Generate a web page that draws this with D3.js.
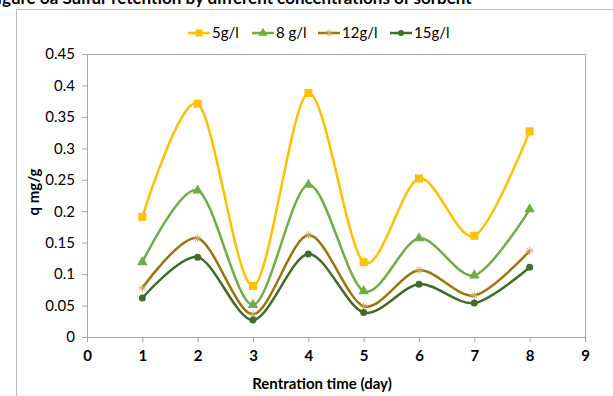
<!DOCTYPE html>
<html>
<head>
<meta charset="utf-8">
<script src="https://cdn.jsdelivr.net/npm/d3@7"></script>
<style>
  body { margin: 0; background: #fff; }
  svg { display: block; }
</style>
</head>
<body>
<div id="chart"></div>
<script>
// data
let days = [1, 2, 3, 4, 5, 6, 7, 8];
let seriesNames = ["5g/l", "8 g/l", "12g/l", "15g/l"];
let s5 = [0.191, 0.371, 0.081, 0.388, 0.119, 0.252, 0.161, 0.327];
let s8 = [0.119, 0.233, 0.051, 0.242, 0.073, 0.157, 0.098, 0.203];
let s12 = [0.078, 0.157, 0.036, 0.162, 0.049, 0.106, 0.066, 0.137];
let s15 = [0.062, 0.127, 0.027, 0.132, 0.039, 0.084, 0.054, 0.111];
let xTicks = [0, 1, 2, 3, 4, 5, 6, 7, 8, 9];
let yTicks = [0, 0.05, 0.1, 0.15, 0.2, 0.25, 0.3, 0.35, 0.4, 0.45];

let colors = ["#FFC000", "#70AD47", "#9C7410", "#436B2C"];
let shapes = ["square", "triangle", "star", "circle"];

let width = 613, height = 396;
let margin = {top: 54, right: 28, bottom: 59, left: 87};
let font = "Lato, 'Open Sans', sans-serif";

let svg = d3.select("#chart").append("svg")
  .attr("width", width)
  .attr("height", height);

// caption of the figure, cut by the top edge like in the source
svg.append("text")
  .attr("x", -12).attr("y", 4)
  .attr("font-family", font).attr("font-weight", "bold").attr("font-size", 17)
  .text("Figure 6a Sulfur retention by different concentrations of sorbent");

svg.append("rect")
  .attr("x", 16.5).attr("y", 9.5)
  .attr("width", 620).attr("height", 420)
  .attr("fill", "#fff").attr("stroke", "#BFBFBF");

let w = width - margin.left - margin.right;
let h = height - margin.top - margin.bottom;
let g = svg.append("g").attr("transform", "translate(" + margin.left + "," + margin.top + ")");

let x = d3.scaleLinear().domain([0, 9]).range([0, w]);
let y = d3.scaleLinear().domain([0, 0.45]).range([h, 0]);

// plot frame (top/right)
g.append("path")
  .attr("d", "M0.5,0.5H" + (w + 0.5) + "V" + h)
  .attr("fill", "none").attr("stroke", "#A6A6A6");

let xAxis = g.append("g").attr("transform", "translate(0," + h + ")")
  .call(d3.axisBottom(x).tickValues(xTicks).tickSize(5).tickPadding(8).tickFormat(d3.format("d")));
let yAxis = g.append("g")
  .call(d3.axisLeft(y).tickValues(yTicks).tickSize(5).tickPadding(7).tickFormat(d => d === 0 ? "0" : String(+d.toFixed(2))));

[xAxis, yAxis].forEach(function(ax) {
  ax.select(".domain").attr("stroke", "#A6A6A6");
  ax.selectAll(".tick line").attr("stroke", "#A6A6A6");
  ax.selectAll("text").attr("fill", "#000").attr("font-family", font).attr("font-size", 15);
});
xAxis.selectAll("text").attr("font-weight", "bold");

// axis titles
svg.append("text")
  .attr("x", 322).attr("y", 389)
  .attr("text-anchor", "middle")
  .attr("font-family", font).attr("font-weight", "bold").attr("font-size", 15)
  .text("Rentration time (day)");

svg.append("text")
  .attr("transform", "translate(39,192) rotate(-90)")
  .attr("text-anchor", "middle")
  .attr("font-family", font).attr("font-weight", "bold").attr("font-size", 15)
  .text("q mg/g");

// series
let allSeries = [s5, s8, s12, s15];
let line = d3.line()
  .x((d, i) => x(days[i]))
  .y(d => y(d))
  .curve(d3.curveCardinal.tension(0.1));

function drawMarker(sel, shape, color, size) {
  if (shape === "square") {
    sel.append("rect").attr("x", -size / 2).attr("y", -size / 2)
      .attr("width", size).attr("height", size).attr("fill", color);
  } else if (shape === "triangle") {
    sel.append("path").attr("d", d3.symbol(d3.symbolTriangle, size * size * 0.75)).attr("fill", color);
  } else if (shape === "circle") {
    sel.append("circle").attr("r", size / 2 - 0.5).attr("fill", color);
  } else {
    let r = size / 2;
    sel.append("path")
      .attr("d", "M" + -r + ",0H" + r + "M" + (-r * 0.7) + "," + (-r * 0.7) + "L" + (r * 0.7) + "," + (r * 0.7) +
        "M" + (-r * 0.7) + "," + (r * 0.7) + "L" + (r * 0.7) + "," + (-r * 0.7) + "M0," + -r + "V" + r)
      .attr("stroke", "#C9A760").attr("stroke-width", 1).attr("fill", "none");
  }
}

allSeries.forEach(function(vals, k) {
  g.append("path")
    .datum(vals)
    .attr("d", line)
    .attr("fill", "none")
    .attr("stroke", colors[k])
    .attr("stroke-width", 2.5);
  g.append("g").selectAll("g")
    .data(vals)
    .enter()
    .append("g")
    .attr("transform", (d, i) => "translate(" + x(days[i]) + "," + y(d) + ")")
    .each(function() { drawMarker(d3.select(this), shapes[k], colors[k], 8); });
});

// legend
let legendX = [188, 252, 318, 390];
let legend = svg.append("g").attr("transform", "translate(0,33)");
seriesNames.forEach(function(name, k) {
  let item = legend.append("g").attr("transform", "translate(" + legendX[k] + ",0)");
  item.append("line").attr("x1", 0).attr("x2", 22).attr("y1", 0).attr("y2", 0)
    .attr("stroke", colors[k]).attr("stroke-width", 2.5);
  drawMarker(item.append("g").attr("transform", "translate(11,0)"), shapes[k], colors[k], 7);
  item.append("text").attr("x", 24).attr("y", 5)
    .attr("font-family", font).attr("font-size", 15)
    .text(name);
});
</script>
</body>
</html>
